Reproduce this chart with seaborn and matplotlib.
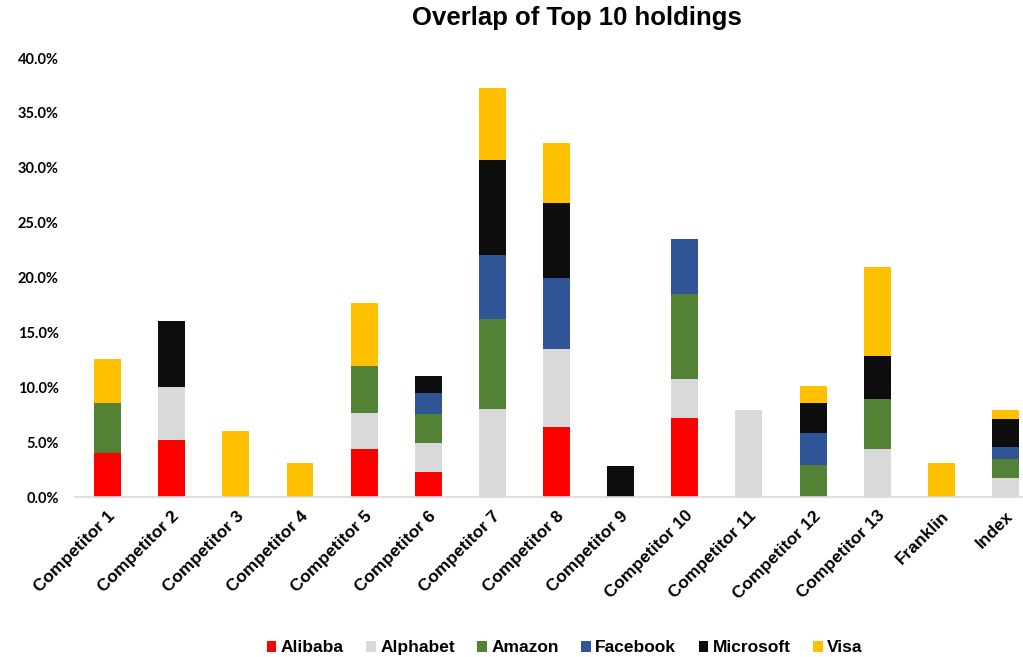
import matplotlib
matplotlib.use("Agg")
import matplotlib.pyplot as plt
from matplotlib.patches import Rectangle
import numpy as np
import pandas as pd
import seaborn as sns

# data (percent of portfolio)
competitors = ["Competitor 1", "Competitor 2", "Competitor 3", "Competitor 4", "Competitor 5",
               "Competitor 6", "Competitor 7", "Competitor 8", "Competitor 9", "Competitor 10",
               "Competitor 11", "Competitor 12", "Competitor 13", "Franklin", "Index"]
alibaba   = [4.0, 5.2, 0.0, 0.0, 4.4, 2.3, 0.0, 6.35, 0.0, 7.2, 0.0, 0.0, 0.0, 0.0, 0.0]
alphabet  = [0.0, 4.8, 0.0, 0.0, 3.3, 2.65, 8.0, 7.1, 0.0, 3.55, 7.9, 0.0, 4.35, 0.0, 1.7]
amazon    = [4.6, 0.0, 0.0, 0.0, 4.2, 2.65, 8.2, 0.0, 0.0, 7.75, 0.0, 2.9, 4.55, 0.0, 1.8]
facebook  = [0.0, 0.0, 0.0, 0.0, 0.0, 1.9, 5.85, 6.55, 0.0, 5.05, 0.0, 2.9, 0.0, 0.0, 1.1]
microsoft = [0.0, 6.0, 0.0, 0.0, 0.0, 1.5, 8.7, 6.8, 2.8, 0.0, 0.0, 2.75, 3.95, 0.0, 2.5]
visa      = [4.0, 0.0, 6.0, 3.1, 5.8, 0.0, 6.55, 5.45, 0.0, 0.0, 0.0, 1.6, 8.1, 3.1, 0.85]

series = ["Alibaba", "Alphabet", "Amazon", "Facebook", "Microsoft", "Visa"]
colors = ["#FF0000", "#D9D9D9", "#548235", "#2F5597", "#0D0D0D", "#FFC000"]

df = pd.DataFrame({"Fund": competitors, "Alibaba": alibaba, "Alphabet": alphabet,
                   "Amazon": amazon, "Facebook": facebook, "Microsoft": microsoft, "Visa": visa})

sns.set_theme(style="white", rc={"text.color": "black", "xtick.color": "black",
                                 "ytick.color": "black"})
plt.rcParams["font.family"] = ["Liberation Sans", "DejaVu Sans"]

fig = plt.figure(figsize=(10.23, 6.57), dpi=100)
ax = fig.add_axes([0.0738, 0.2435, 0.9404, 0.6682])

# stacked bars: draw cumulative totals from the top series down
cum = df[series].cumsum(axis=1)
for name, col in reversed(list(zip(series, colors))):
    sns.barplot(x=df["Fund"], y=cum[name], color=col, saturation=1, width=0.42,
                errorbar=None, linewidth=0, order=competitors, ax=ax)

ax.set_ylim(0, 40)
ax.set_xlim(-0.5, 14.5)
ax.set_yticks(np.arange(0, 40.1, 5))
ax.set_yticklabels([f"{v:.1f}%" for v in np.arange(0, 40.1, 5)],
                   fontweight="bold", fontsize=10.5, family="Lato")
ax.tick_params(axis="y", length=0, pad=12)
ax.tick_params(axis="x", length=0, pad=8)
ax.set_xticks(range(len(competitors)))
ax.set_xticklabels(competitors, rotation=45, ha="right", rotation_mode="anchor",
                   fontweight="bold", fontsize=12.5)
ax.set_xlabel("")
ax.set_ylabel("")
for s in ["left", "right", "top"]:
    ax.spines[s].set_visible(False)
ax.spines["bottom"].set_color("#D9D9D9")
ax.spines["bottom"].set_linewidth(1.2)

fig.text(0.5635, 0.9726, "Overlap of Top 10 holdings", ha="center", va="center",
         fontsize=18.5, fontweight="bold", color="black")

handles = [Rectangle((0, 0), 1, 1, facecolor=c, edgecolor="none") for c in colors]
fig.legend(handles, series, loc="center", bbox_to_anchor=(0.552, 0.0137), ncol=6,
           frameon=False, prop={"weight": "bold", "size": 12.5},
           handlelength=0.55, handleheight=0.55, handletextpad=0.25, columnspacing=1.3)

fig.savefig("out.png", dpi=100)
